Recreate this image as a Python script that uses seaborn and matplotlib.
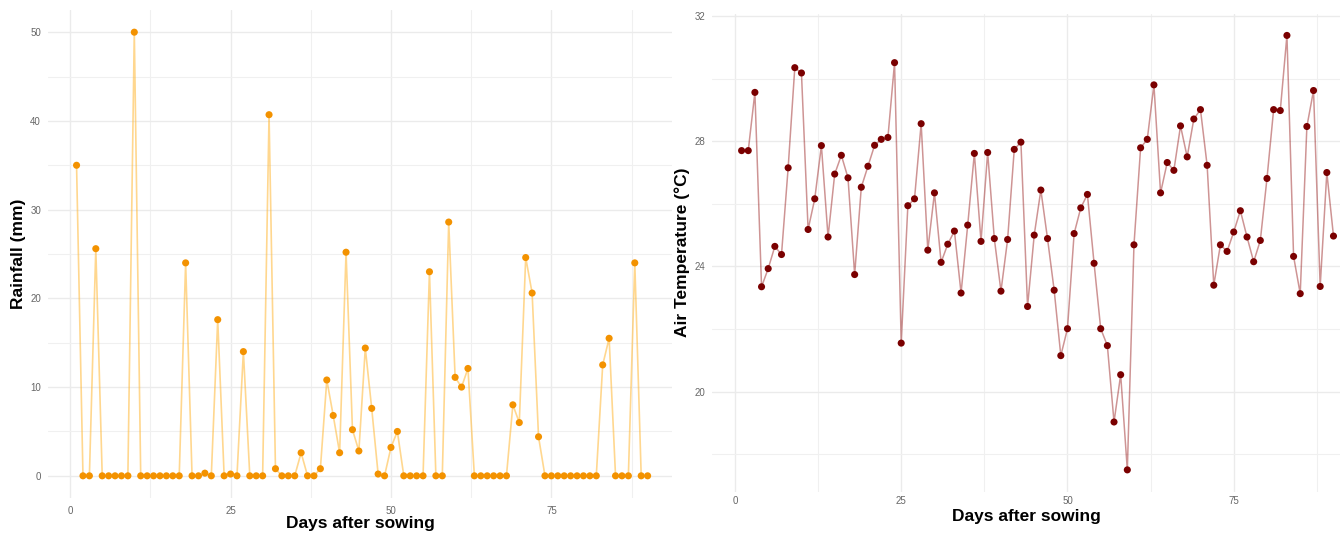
import matplotlib
matplotlib.use("Agg")
import matplotlib.pyplot as plt
from matplotlib.ticker import MultipleLocator
import seaborn as sns
import pandas as pd

days = list(range(1, 91))

rainfall = [35, 0, 0, 25.6, 0, 0, 0, 0, 0, 50,
            0, 0, 0, 0, 0, 0, 0, 24, 0, 0,
            0.3, 0, 17.6, 0, 0.2, 0, 14, 0, 0, 0,
            40.7, 0.8, 0, 0, 0, 2.6, 0, 0, 0.8, 10.8,
            6.8, 2.6, 25.2, 5.2, 2.8, 14.4, 7.6, 0.2, 0, 3.2,
            5.0, 0, 0, 0, 0, 23, 0, 0, 28.6, 11.1,
            10.0, 12.1, 0, 0, 0, 0, 0, 0, 8.0, 6.0,
            24.6, 20.6, 4.4, 0, 0, 0, 0, 0, 0, 0,
            0, 0, 12.5, 15.5, 0, 0, 0, 24, 0, 0]

air_temp = [27.7, 27.7, 29.56, 23.35, 23.93, 24.64, 24.38, 27.15, 30.35, 30.18,
            25.18, 26.16, 27.86, 24.94, 26.95, 27.55, 26.83, 23.74, 26.53, 27.2,
            27.87, 28.06, 28.12, 30.51, 21.55, 25.94, 26.16, 28.56, 24.52, 26.35,
            24.13, 24.71, 25.13, 23.15, 25.32, 27.61, 24.8, 27.64, 24.89, 23.21,
            24.86, 27.74, 27.97, 22.72, 25.0, 26.44, 24.89, 23.24, 21.15, 22.01,
            25.05, 25.87, 26.3, 24.1, 22.01, 21.47, 19.03, 20.54, 17.5, 24.69,
            27.79, 28.06, 29.8, 26.35, 27.32, 27.07, 28.49, 27.5, 28.71, 29.01,
            27.23, 23.4, 24.69, 24.48, 25.1, 25.78, 24.94, 24.15, 24.83, 26.81,
            29.01, 28.98, 31.38, 24.32, 23.13, 28.47, 29.62, 23.36, 27.0, 24.97]

df = pd.DataFrame({"day": days, "rain": rainfall, "temp": air_temp})

sns.set_theme(style="white")
plt.rcParams["font.family"] = ["Liberation Sans", "DejaVu Sans"]

W, H = 1340, 533
fig = plt.figure(figsize=(W / 100, H / 100), dpi=100)
fig.patch.set_facecolor("white")


def px_axes(left, top, right, bottom):
    return fig.add_axes([left / W, (H - bottom) / H, (right - left) / W, (bottom - top) / H])


def style_axes(ax, ymajor, yminor, xpad):
    ax.set_facecolor("white")
    for s in ax.spines.values():
        s.set_visible(False)
    ax.xaxis.set_major_locator(MultipleLocator(25))
    ax.xaxis.set_minor_locator(MultipleLocator(12.5))
    ax.yaxis.set_major_locator(MultipleLocator(ymajor))
    ax.yaxis.set_minor_locator(MultipleLocator(yminor))
    ax.grid(True, which="major", color="#ebebeb", linewidth=1.0)
    ax.grid(True, which="minor", color="#f0f0f0", linewidth=0.8)
    ax.set_axisbelow(True)
    ax.tick_params(which="both", length=0, labelsize=7, labelcolor="#666666")
    ax.tick_params(axis="y", pad=5)
    ax.tick_params(axis="x", pad=xpad)


# left panel: rainfall
ax1 = px_axes(48, 10, 672, 498)
sns.lineplot(data=df, x="day", y="rain", ax=ax1, color="#FFB733", alpha=0.55, linewidth=1.2)
sns.scatterplot(data=df, x="day", y="rain", ax=ax1, color="#F39200", s=26,
                edgecolor="none", zorder=3)
ax1.set_xlim(-3.45, 93.8)
ax1.set_ylim(-2.5, 52.5)
style_axes(ax1, 10, 5, 6)
ax1.set_ylabel("Rainfall (mm)", fontsize=12.5, fontweight="bold", color="black", labelpad=3)
ax1.set_xlabel("Days after sowing", fontsize=12.5, fontweight="bold", color="black", labelpad=0)

# right panel: air temperature
ax2 = px_axes(712, 13.7, 1340, 491.6)
sns.lineplot(data=df, x="day", y="temp", ax=ax2, color="#8B0000", alpha=0.42, linewidth=1.1)
sns.scatterplot(data=df, x="day", y="temp", ax=ax2, color="#7A0000", s=26,
                edgecolor="none", zorder=3)
ax2.set_xlim(-3.45, 90.98)
ax2.set_ylim(16.806, 32.074)
style_axes(ax2, 4, 2, 3)
ax2.set_ylabel("Air Temperature (°C)", fontsize=12.5, fontweight="bold", color="black", labelpad=3)
ax2.set_xlabel("Days after sowing", fontsize=12.5, fontweight="bold", color="black", labelpad=2)

fig.savefig("out.png", dpi=100, facecolor="white")
